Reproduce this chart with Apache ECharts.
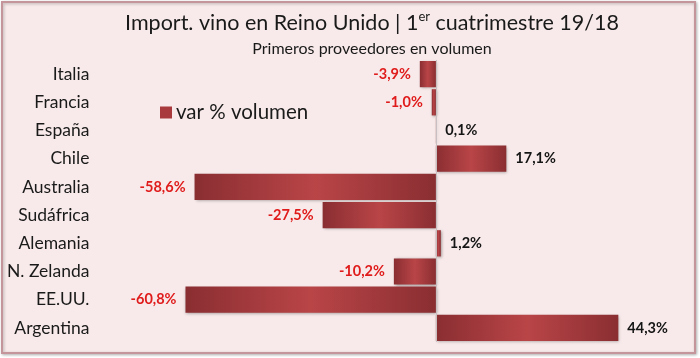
<!DOCTYPE html>
<html><head><meta charset="utf-8">
<script src="https://cdn.jsdelivr.net/npm/echarts@6/dist/echarts.min.js"></script>
<style>html,body{margin:0;padding:0;background:#fff}#c{width:700px;height:358px}</style>
</head><body><div id="c"></div>
<script>
var categories = ['Italia','Francia','España','Chile','Australia','Sudáfrica','Alemania','N. Zelanda','EE.UU.','Argentina'];
var values = [-3.9,-1.0,0.1,17.1,-58.6,-27.5,1.2,-10.2,-60.8,44.3];
var seriesName = 'var % volumen';
var titleMain = 'Import. vino en Reino Unido | 1';
var titleSup = 'er';
var titleEnd = ' cuatrimestre 19/18';
var subtitle = 'Primeros proveedores en volumen';

var FONT = 'Lato';
var chart = echarts.init(document.getElementById('c'), null, {renderer:'canvas'});
var barGrad = new echarts.graphic.LinearGradient(0,0,1,0,[
  {offset:0,color:'#8a2e32'},{offset:0.5,color:'#b94547'},{offset:1,color:'#8a2e32'}]);
function fmt(v){return v.toFixed(1).replace('.',',')+'%';}
var data = values.map(function(v){
  return {value:v, label:{position: v<0?'left':'right', color: v<0?'#e01b1b':'#151515'}};
});
chart.setOption({
  backgroundColor:'#ffffff',
  animation:false,
  graphic:[{type:'rect',z:-10,shape:{x:2,y:2,width:693,height:351},
    style:{fill:'#f8eaea',stroke:'#c4959a',lineWidth:2,shadowBlur:3,shadowColor:'rgba(0,0,0,0.25)',shadowOffsetX:1,shadowOffsetY:1}}],
  title:[{
    text:'{a|'+titleMain+'}{s|'+titleSup+'}{a|'+titleEnd+'}',
    left:367, top:5, textAlign:'center',
    textStyle:{fontWeight:'normal',rich:{
      a:{fontFamily:FONT,fontSize:21.5,fontWeight:'normal',color:'#1a1a1a',lineHeight:26},
      s:{fontFamily:FONT,fontSize:13,fontWeight:'normal',color:'#1a1a1a',lineHeight:14,verticalAlign:'top'}
    }}
  },{
    text:subtitle, left:367, top:36, textAlign:'center',
    textStyle:{fontFamily:FONT,fontSize:16,fontWeight:'normal',color:'#1a1a1a'}
  }],
  legend:{left:155,top:97,itemWidth:12,itemHeight:12,itemGap:4,icon:'rect',
    data:[{name:seriesName,itemStyle:{color:'#a83a3d'}}],
    textStyle:{fontFamily:FONT,fontSize:20.5,color:'#1a1a1a',padding:[0,0,0,-1]}},
  grid:{left:106.4,right:17,top:60,bottom:16,containLabel:false},
  xAxis:{type:'value',min:-80,max:60,show:false,splitLine:{show:false}},
  yAxis:{type:'category',data:categories,inverse:true,
    axisLine:{show:false},axisTick:{show:false},
    axisLabel:{fontFamily:FONT,fontSize:17.5,color:'#1a1a1a',margin:17}},
  series:[{
    name:seriesName,type:'bar',data:data,barCategoryGap:'7%',
    itemStyle:{color:barGrad,shadowBlur:3,shadowColor:'rgba(0,0,0,0.35)',shadowOffsetX:1,shadowOffsetY:1},
    label:{show:true,distance:9,fontFamily:FONT,fontSize:14.5,fontWeight:'bold',
      formatter:function(p){return fmt(p.value);}},
    markLine:{silent:true,symbol:'none',label:{show:false},
      lineStyle:{color:'#c8c0c0',width:1,type:'solid'},data:[{xAxis:0}]}
  }]
});
</script></body></html>
